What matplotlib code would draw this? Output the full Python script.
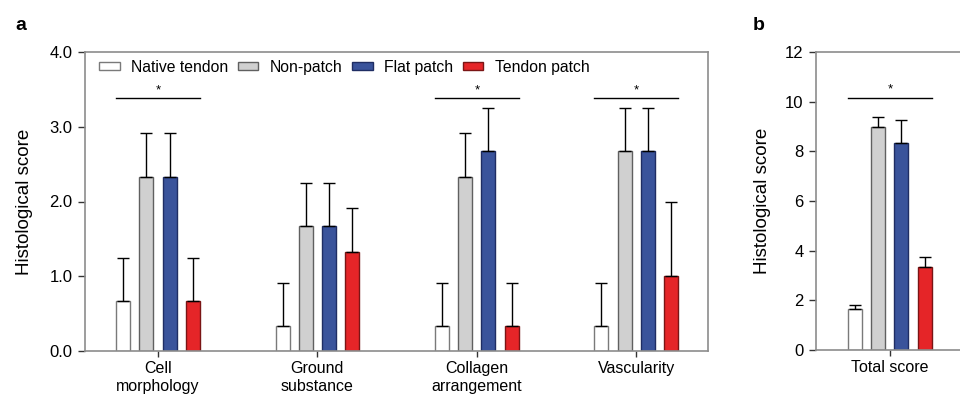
import numpy as np
import matplotlib.pyplot as plt
from matplotlib.patches import Patch

plt.rcParams['font.family'] = ['Liberation Sans', 'DejaVu Sans']

categories = ["Cell\nmorphology", "Ground\nsubstance", "Collagen\narrangement", "Vascularity"]
groups = ["Native tendon", "Non-patch", "Flat patch", "Tendon patch"]

native = [0.67, 0.33, 0.33, 0.33]
nonpatch = [2.33, 1.67, 2.33, 2.67]
flat = [2.33, 1.67, 2.67, 2.67]
tendon = [0.67, 1.33, 0.33, 1.00]

native_err = [0.58, 0.58, 0.58, 0.58]
nonpatch_err = [0.58, 0.58, 0.58, 0.58]
flat_err = [0.58, 0.58, 0.58, 0.58]
tendon_err = [0.58, 0.58, 0.58, 1.00]

total = [1.67, 9.00, 8.33, 3.33]
total_err = [0.15, 0.40, 0.94, 0.40]

sig_a = [0, 2, 3]   # categories with a significance bar
sig_a_y = 3.38
sig_b_y = 10.15

fills = ["#ffffff", "#d0d0d0", "#3a539b", "#e52528"]
edges = ["#7a7a7a", "#606060", "#1f2d63", "#7a1515"]

W, H = 960, 394
fig = plt.figure(figsize=(W / 100, H / 100), dpi=100)

def box(l, t, r, b):
    return [l / W, 1 - b / H, (r - l) / W, (b - t) / H]

spine_col = "#8c8c8c"
bw = 0.088
step = 0.146
offs = (np.arange(4) - 1.5) * step

def style(ax):
    for s in ax.spines.values():
        s.set_color(spine_col)
        s.set_linewidth(1.2)
    ax.tick_params(axis='y', direction='out', length=5, width=1, color="#333333", labelsize=12, pad=4)
    ax.tick_params(axis='x', direction='out', length=4, width=1, color="#333333", labelsize=11.5, pad=3)

# panel a
ax = fig.add_axes(box(85, 52, 708, 351))
x = np.arange(len(categories))
vals = [native, nonpatch, flat, tendon]
errs = [native_err, nonpatch_err, flat_err, tendon_err]
for i in range(4):
    ax.bar(x + offs[i], vals[i], width=bw, color=fills[i], edgecolor=edges[i], linewidth=1, zorder=2)
    ax.errorbar(x + offs[i], vals[i], yerr=[np.zeros(4), errs[i]], fmt='none', ecolor='black',
                elinewidth=1, capsize=4.5, capthick=1, zorder=3)
for c in sig_a:
    ax.plot([c + offs[0] - bw / 2, c + offs[3] + bw / 2], [sig_a_y, sig_a_y], color='black', lw=1)
    ax.text(c, sig_a_y + 0.03, "*", ha='center', va='bottom', fontsize=9.5)
ax.set_xlim(-0.458, 3.45)
ax.set_ylim(0, 4)
ax.set_yticks([0, 1, 2, 3, 4])
ax.set_yticklabels(["0.0", "1.0", "2.0", "3.0", "4.0"])
ax.set_xticks(x)
ax.set_xticklabels(categories, linespacing=1.3)
ax.set_ylabel("Histological score", fontsize=13.5, labelpad=12)
style(ax)
handles = [Patch(facecolor=fills[i], edgecolor=edges[i], linewidth=1) for i in range(4)]
ax.legend(handles, groups, loc='upper left', bbox_to_anchor=(0.0, 1.022), ncol=4, frameon=False,
          fontsize=11.3, handlelength=1.3, handleheight=0.33, handletextpad=0.75, columnspacing=0.6)
fig.text(15 / W, 1 - 25 / H, "a", fontsize=14, fontweight='bold', va='center')

# panel b
bx = fig.add_axes(box(816, 52, 963, 350))
for i in range(4):
    bx.bar(offs[i], total[i], width=bw, color=fills[i], edgecolor=edges[i], linewidth=1, zorder=2)
    bx.errorbar(offs[i], total[i], yerr=[[0], [total_err[i]]], fmt='none', ecolor='black',
                elinewidth=1, capsize=4.5, capthick=1, zorder=3)
bx.plot([offs[0] - bw / 2, offs[3] + bw / 2], [sig_b_y, sig_b_y], color='black', lw=1)
bx.text(0, sig_b_y + 0.1, "*", ha='center', va='bottom', fontsize=9.5)
bx.set_xlim(-0.464, 0.46)
bx.set_ylim(0, 12)
bx.set_yticks([0, 2, 4, 6, 8, 10, 12])
bx.set_xticks([0])
bx.set_xticklabels(["Total score"])
bx.set_ylabel("Histological score", fontsize=13.5, labelpad=10)
style(bx)
bx.spines['right'].set_visible(False)
fig.text(753 / W, 1 - 25 / H, "b", fontsize=14, fontweight='bold', va='center')

fig.savefig("out.png", dpi=100)
